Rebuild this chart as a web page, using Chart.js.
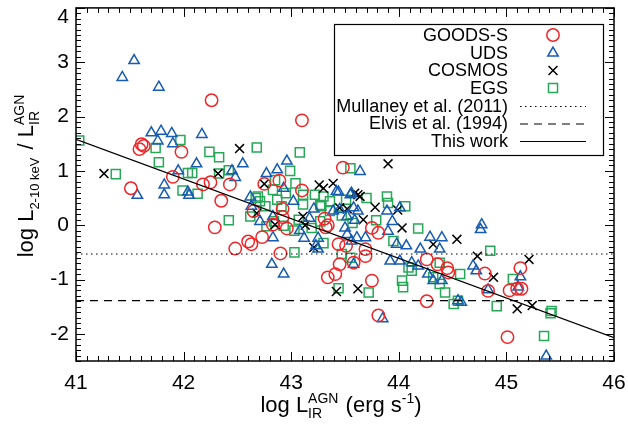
<!DOCTYPE html>
<html><head><meta charset="utf-8">
<script src="https://cdn.jsdelivr.net/npm/chart.js@4/dist/chart.umd.min.js"></script>
<style>html,body{margin:0;padding:0;background:#fff}#wrap{width:628px;height:424px}</style>
</head><body><div id="wrap"><canvas id="c" width="628" height="424"></canvas></div>
<script>
// ---- data ----
const xTicks = [41, 42, 43, 44, 45, 46];
const yTicks = [-2, -1, 0, 1, 2, 3, 4];

const goodsX = [42.26,41.61,41.63,41.59,41.98,41.90,42.18,42.25,42.43,41.51,42.35,43.10,42.75,42.89,43.10,42.65,42.29,42.48,42.60,42.63,42.73,42.90,42.83,42.92,42.96,42.92,43.32,43.34,43.48,43.75,43.81,43.44,43.51,43.45,43.41,43.34,43.58,43.69,43.69,43.75,43.81,44.26,44.36,44.45,44.46,44.26,44.80,44.83,45.13,45.03,45.10,45.14,45.01,43.31];
const goodsY = [2.30,1.49,1.46,1.40,1.35,0.89,0.75,0.79,0.75,0.68,0.45,1.93,0.76,0.82,0.64,0.26,-0.04,-0.43,-0.30,-0.35,-0.22,-0.52,0.01,0.30,-0.06,0.15,-0.04,0.00,1.06,-0.05,-0.14,-0.35,-0.38,-0.72,-0.90,-0.96,-0.69,-0.57,-0.44,-1.02,-1.66,-0.63,-0.72,-0.79,-0.87,-1.40,-0.89,-1.21,-0.79,-1.20,-1.17,-1.17,-2.06,0.12];

const udsX = [41.54,41.43,41.77,41.70,41.79,41.89,41.76,41.90,42.17,42.12,41.95,41.82,41.57,41.82,42.04,42.05,42.45,42.48,42.55,42.62,42.77,42.87,42.96,42.93,43.02,43.42,42.63,42.71,42.83,43.08,43.21,43.17,43.39,43.55,43.52,43.50,43.62,42.83,43.12,43.25,42.82,42.93,43.23,43.25,43.52,43.58,43.64,43.56,43.89,44.01,43.94,43.59,43.90,44.29,44.40,43.69,43.56,43.61,43.98,44.07,44.20,44.38,43.92,44.01,44.12,44.18,44.27,44.32,44.40,44.55,43.85,44.77,44.76,44.69,44.72,44.83,45.13,45.11,44.58,45.37,43.44,43.45,43.58];
const udsY = [3.03,2.72,2.54,1.70,1.73,1.69,1.55,1.50,1.67,1.13,1.00,0.74,0.55,0.56,0.61,0.55,1.00,0.88,1.13,0.52,0.95,1.02,1.18,0.68,0.44,0.62,0.35,0.07,0.16,-0.10,0.30,0.13,0.26,0.56,0.16,-0.05,0.26,-0.23,-0.24,-0.24,-0.72,-0.90,-0.38,-0.44,-0.17,-0.72,0.99,0.59,0.26,0.32,0.07,0.09,-0.11,-0.22,-0.23,-0.23,-0.29,-0.23,-0.35,-0.38,-0.44,-0.44,-0.66,-0.66,-0.69,-0.75,-0.90,-1.02,-1.02,-1.39,-1.72,0.01,-0.08,-0.75,-0.84,-1.19,-0.95,-1.14,-1.42,-2.41,0.61,0.29,0.32];

const cosmosX = [41.26,42.52,42.32,42.75,43.26,43.39,42.68,42.85,43.13,43.45,43.52,43.59,43.62,43.90,43.78,43.99,43.67,44.03,44.54,44.32,43.62,43.42,44.73,44.88,45.21,45.10,45.24,43.21,43.11,43.30,43.64];
const cosmosY = [0.95,1.41,0.95,0.76,0.74,0.77,0.22,0.01,0.00,0.32,0.30,0.59,0.56,1.13,0.33,0.28,0.10,-0.05,-0.26,-0.35,-1.17,-1.22,-0.57,-0.96,-0.63,-1.54,-1.48,-0.41,0.16,0.68,0.53];

const egsX = [41.03,41.97,41.74,42.24,42.33,41.77,41.37,42.04,42.08,42.33,42.42,41.99,42.13,42.68,42.67,42.42,43.08,42.99,43.04,42.83,42.95,42.87,43.11,43.22,43.30,43.28,42.71,42.69,42.77,43.07,43.19,43.57,43.55,43.03,42.84,43.03,43.30,43.47,43.55,43.44,43.70,43.89,43.90,44.06,43.79,44.18,43.95,44.09,44.12,44.38,44.57,44.32,44.38,44.43,44.03,44.04,43.72,44.51,44.55,44.85,45.06,44.91,45.42,45.41,45.35,42.76,42.91,42.62,43.36,43.47,43.51,42.85,42.93,43.27,43.11,43.27,43.36];
const egsY = [1.56,1.57,1.42,1.35,1.25,1.16,0.94,0.96,0.96,0.95,1.01,0.64,0.58,1.43,0.50,0.09,1.34,1.00,0.77,0.65,0.59,0.47,0.56,0.56,0.53,0.35,0.44,0.53,-0.02,0.10,-0.05,0.04,1.05,-0.10,0.07,-0.50,-0.33,-0.53,-0.60,-1.16,0.50,0.53,0.41,0.35,0.09,-0.06,-0.29,-0.78,-0.84,-0.69,-0.90,-0.96,-1.08,-1.24,-1.02,-1.14,-1.24,-1.45,-1.39,-0.47,-0.99,-1.49,-1.58,-1.62,-2.04,0.35,0.35,0.16,0.44,0.18,0.47,0.83,-0.01,0.07,0.38,0.37,0.26];

const fitX = [41, 46];
const thisWorkY = [1.58, -2.07];
const mullaneyY = [-0.53, -0.53];
const elvisY = [-1.39, -1.39];

const legendLabels = ['GOODS-S', 'UDS', 'COSMOS', 'EGS', 'Mullaney et al. (2011)', 'Elvis et al. (1994)', 'This work'];

// ---- helpers ----
const pts = (xs, ys) => xs.map((v, i) => ({x: v, y: ys[i]}));
const FONT = '"Liberation Sans", Arial, Helvetica, sans-serif';
const RED = 'rgb(238,38,40)', BLUE = 'rgb(24,92,178)', GREEN = 'rgb(38,168,88)', BLACK = '#000';

function markerDS(label, xs, ys, style, r, color) {
  return {label, data: pts(xs, ys), pointStyle: style, pointRadius: r, pointHoverRadius: r,
    borderColor: color, pointBorderColor: color, backgroundColor: 'rgba(0,0,0,0)',
    pointBackgroundColor: 'rgba(0,0,0,0)', pointBorderWidth: 1.5, borderWidth: 1.5, showLine: false};
}
function lineDS(label, ys, dash) {
  return {label, data: pts(fitX, ys), showLine: true, pointRadius: 0, borderColor: BLACK,
    borderWidth: 1.2, borderDash: dash, fill: false, tension: 0};
}

const sets = [
  lineDS('This work', thisWorkY, []),
  lineDS('Mullaney et al. (2011)', mullaneyY, [1.5, 3.5]),
  lineDS('Elvis et al. (1994)', elvisY, [8, 6]),
  markerDS('GOODS-S', goodsX, goodsY, 'circle', 6.2, RED),
  markerDS('UDS', udsX, udsY, 'triangle', 6.0, BLUE),
  markerDS('COSMOS', cosmosX, cosmosY, 'crossRot', 6.3, BLACK),
  markerDS('EGS', egsX, egsY, 'rect', 6.4, GREEN)
];

function drawMarker(ctx, style, x, y, r, color) {
  ctx.save(); ctx.strokeStyle = color; ctx.lineWidth = 1.5; ctx.beginPath();
  if (style === 'circle') { ctx.arc(x, y, r, 0, Math.PI * 2); }
  else if (style === 'triangle') {
    for (let k = 0; k < 3; k++) { const a = k * 2 * Math.PI / 3; const px = x + Math.sin(a) * r, py = y - Math.cos(a) * r; k ? ctx.lineTo(px, py) : ctx.moveTo(px, py); }
    ctx.closePath();
  } else if (style === 'crossRot') {
    const o = Math.SQRT1_2 * r; ctx.moveTo(x - o, y - o); ctx.lineTo(x + o, y + o); ctx.moveTo(x + o, y - o); ctx.lineTo(x - o, y + o);
  } else if (style === 'rect') { const s = Math.SQRT1_2 * r; ctx.rect(x - s, y - s, 2 * s, 2 * s); }
  ctx.stroke(); ctx.restore();
}

function richWidth(ctx, segs) {
  let w = 0;
  for (const s of segs) {
    ctx.font = s.size + 'px ' + FONT;
    if (s.stack) w += Math.max(ctx.measureText(s.sup).width, ctx.measureText(s.sub).width) + (s.after || 0);
    else w += ctx.measureText(s.t).width + (s.after || 0);
  }
  return w;
}
function richDraw(ctx, segs, u0, base) {
  let u = u0; ctx.textAlign = 'left'; ctx.textBaseline = 'alphabetic'; ctx.fillStyle = '#000';
  for (const s of segs) {
    ctx.font = s.size + 'px ' + FONT;
    if (s.stack) {
      ctx.fillText(s.sup, u, base + s.supDy); ctx.fillText(s.sub, u, base + s.subDy);
      u += Math.max(ctx.measureText(s.sup).width, ctx.measureText(s.sub).width) + (s.after || 0);
    } else { ctx.fillText(s.t, u, base + (s.dy || 0)); u += ctx.measureText(s.t).width + (s.after || 0); }
  }
}

const decor = {
  id: 'decor',
  afterDatasetsDraw(chart) {
    const {ctx, chartArea: a, scales: {x, y}} = chart;
    ctx.save();
    ctx.strokeStyle = '#000';
    // ticks (inward, all four sides)
    ctx.lineWidth = 1;
    ctx.beginPath();
    for (let i = 0; i <= 50; i++) {
      const v = x.min + i * 0.1; const px = Math.round(x.getPixelForValue(v)) + 0.5;
      const L = (i % 10 === 0) ? 9 : 5;
      ctx.moveTo(px, a.bottom); ctx.lineTo(px, a.bottom - L);
      ctx.moveTo(px, a.top); ctx.lineTo(px, a.top + L);
    }
    for (let i = 0; i <= 65; i++) {
      const v = y.min + i * 0.1; const py = Math.round(y.getPixelForValue(v)) + 0.5;
      const major = Math.abs(v - Math.round(v)) < 1e-6;
      const L = major ? 9 : 5;
      ctx.moveTo(a.left, py); ctx.lineTo(a.left + L, py);
      ctx.moveTo(a.right, py); ctx.lineTo(a.right - L, py);
    }
    ctx.stroke();
    // frame
    ctx.lineWidth = 1.5;
    ctx.strokeRect(a.left, a.top, a.right - a.left, a.bottom - a.top);
    // tick labels
    ctx.fillStyle = '#000';
    ctx.font = '21px ' + FONT;
    ctx.textAlign = 'center'; ctx.textBaseline = 'middle';
    for (const t of xTicks) ctx.fillText(String(t), x.getPixelForValue(t), a.bottom + 22);
    ctx.textAlign = 'right';
    for (const t of yTicks) ctx.fillText(String(t), a.left - 7, Math.max(y.getPixelForValue(t), a.top + 9));
    // x title
    const xs = [
      {t: 'log L', size: 22},
      {stack: true, sup: 'AGN', sub: 'IR', size: 14, supDy: -9, subDy: 6, after: 1},
      {t: ' (erg s', size: 22},
      {t: '-1', size: 14, dy: -9},
      {t: ')', size: 22}
    ];
    const wx = richWidth(ctx, xs);
    richDraw(ctx, xs, 341 - wx / 2, 412);
    // y title
    const ys = [
      {t: 'log L', size: 22},
      {t: '2-10 keV', size: 13, dy: 6, after: 2},
      {t: ' / L', size: 22},
      {stack: true, sup: 'AGN', sub: 'IR', size: 14, supDy: -9, subDy: 6}
    ];
    const wy = richWidth(ctx, ys);
    ctx.save(); ctx.translate(33, 176); ctx.rotate(-Math.PI / 2);
    richDraw(ctx, ys, -wy / 2, 0);
    ctx.restore();
    // legend
    const lx0 = 334.5, ly0 = 24.5, lw = 269, lh = 131;
    ctx.fillStyle = '#fff'; ctx.fillRect(lx0, ly0, lw, lh);
    ctx.lineWidth = 1.2; ctx.strokeStyle = '#000'; ctx.strokeRect(lx0, ly0, lw, lh);
    const rows = [35, 53, 70.5, 88, 106, 123.5, 141];
    ctx.font = '18px ' + FONT; ctx.fillStyle = '#000'; ctx.textAlign = 'right'; ctx.textBaseline = 'middle';
    legendLabels.forEach((lab, i) => ctx.fillText(lab, 508, rows[i] + 1));
    const mk = sets.slice(3);
    mk.forEach((d, i) => drawMarker(ctx, d.pointStyle, 553, rows[i], d.pointRadius, d.borderColor));
    const ln = [sets[1], sets[2], sets[0]];
    ln.forEach((d, i) => {
      ctx.save(); ctx.lineWidth = 1.2; ctx.setLineDash(d.borderDash); ctx.beginPath();
      ctx.moveTo(520, rows[4 + i] + 0.5); ctx.lineTo(586, rows[4 + i] + 0.5); ctx.stroke(); ctx.restore();
    });
    ctx.restore();
  }
};

new Chart(document.getElementById('c'), {
  type: 'scatter',
  data: {datasets: sets},
  options: {
    responsive: false, animation: false, devicePixelRatio: 1,
    layout: {padding: {top: 5, right: 14, left: 0, bottom: 0}},
    plugins: {legend: {display: false}, tooltip: {enabled: false}},
    scales: {
      x: {type: 'linear', min: 41, max: 46, grid: {display: false}, border: {display: false},
          ticks: {display: false}, afterFit(s) { s.height = 63; }},
      y: {type: 'linear', min: -2.5, max: 4, grid: {display: false}, border: {display: false},
          ticks: {display: false}, afterFit(s) { s.width = 76; }}
    }
  },
  plugins: [decor]
});
</script></body></html>
